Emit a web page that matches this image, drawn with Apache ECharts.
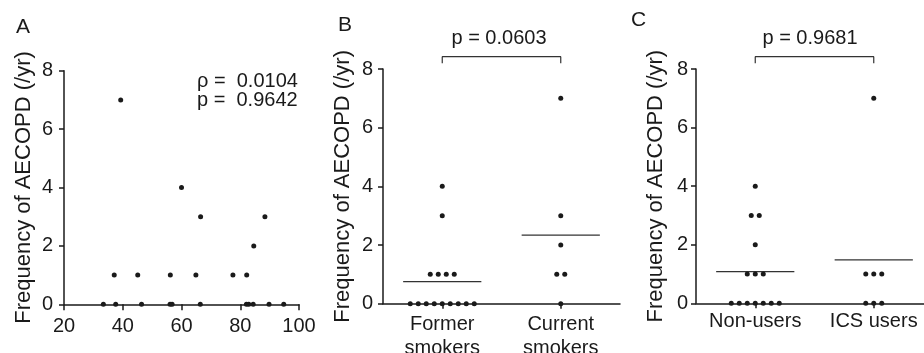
<!DOCTYPE html>
<html>
<head>
<meta charset="utf-8">
<script src="https://cdn.jsdelivr.net/npm/echarts@6/dist/echarts.min.js"></script>
<style>
html,body{margin:0;padding:0;background:#fff;}
#chart{width:924px;height:353px;}
</style>
</head>
<body>
<div id="chart"></div>
<script>
// ---- data ----
const yTitle = 'Frequency of AECOPD (/yr)';
const panelLetters = ['A', 'B', 'C'];
// Panel A: scatter
const xA = [39.3, 60.0, 66.5, 88.4, 84.6, 37.1, 45.1, 56.2, 64.9, 77.5, 82.2, 33.4, 37.6, 46.4, 56.1, 56.8, 66.4, 82.1, 82.9, 84.4, 89.8, 94.8];
const yA = [7, 4, 3, 3, 2, 1, 1, 1, 1, 1, 1, 0, 0, 0, 0, 0, 0, 0, 0, 0, 0, 0];
const statsA = ['ρ =  0.0104', 'p =  0.9642'];
const xTicksA = [20, 40, 60, 80, 100];
const yTicks = [0, 2, 4, 6, 8];
// Panel B
const catsB = ['Former\nsmokers', 'Current\nsmokers'];
const formerB = [4, 3, 1, 1, 1, 1, 0, 0, 0, 0, 0, 0, 0, 0, 0];
const currentB = [7, 3, 2, 1, 1, 0];
const meanB = [0.75, 2.34];
const pB = 'p = 0.0603';
// Panel C
const catsC = ['Non-users', 'ICS users'];
const nonUsersC = [4, 3, 3, 2, 1, 1, 1, 0, 0, 0, 0, 0, 0, 0];
const icsC = [7, 1, 1, 1, 0, 0, 0];
const meanC = [1.08, 1.48];
const pC = 'p = 0.9681';

// ---- build ----
const FONT = "'Liberation Sans', Arial, Helvetica, sans-serif";
const INK = '#1a1a1a';

function swarm(groups) {
  const out = [];
  groups.forEach((vals, gi) => {
    const counts = {};
    vals.forEach(v => counts[v] = (counts[v] || 0) + 1);
    const seen = {};
    vals.forEach(v => {
      const k = seen[v] || 0; seen[v] = k + 1;
      out.push([gi, v, k, counts[v]]);
    });
  });
  return out;
}

function dotSeries(idx, data) {
  return {
    type: 'custom', xAxisIndex: idx, yAxisIndex: idx, data: data,
    encode: { x: 0, y: 1 }, clip: false, z: 5,
    renderItem: function (params, api) {
      const c = api.coord([api.value(0), api.value(1)]);
      const off = (api.value(2) - (api.value(3) - 1) / 2) * 8;
      return { type: 'circle', shape: { cx: c[0] + off, cy: c[1], r: 2.5 }, style: { fill: INK } };
    }
  };
}
function meanSeries(idx, means) {
  return {
    type: 'custom', xAxisIndex: idx, yAxisIndex: idx,
    data: means.map((m, i) => [i, m]), encode: { x: 0, y: 1 }, clip: false, z: 4,
    renderItem: function (params, api) {
      const c = api.coord([api.value(0), api.value(1)]);
      const bw = api.size([1, 0])[0];
      return { type: 'line', shape: { x1: c[0] - 0.33 * bw, y1: c[1], x2: c[0] + 0.33 * bw, y2: c[1] },
        style: { stroke: '#333', lineWidth: 1.2 } };
    }
  };
}
function bracketSeries(idx) {
  return {
    type: 'line', xAxisIndex: idx, yAxisIndex: idx, clip: false, symbol: 'none', silent: true,
    data: [[0, 8.2], [0, 8.42], [1, 8.42], [1, 8.2]],
    lineStyle: { color: '#333', width: 1.2 }, z: 4
  };
}

const axisLine = { show: true, lineStyle: { color: INK, width: 1.5 } };
const axisTick = { show: true, length: 5, lineStyle: { color: INK, width: 1.5 } };

function yAxis(gi, margin) {
  return {
    type: 'value', gridIndex: gi, min: 0, max: 8, interval: 2,
    axisLine: axisLine, axisTick: axisTick, splitLine: { show: false },
    axisLabel: { fontSize: 20, color: INK, fontFamily: FONT, margin: margin,
      formatter: v => yTicks.includes(v) ? String(v) : '' },
    name: yTitle, nameLocation: 'middle', nameGap: 29,
    nameTextStyle: { fontSize: 22, color: INK, fontFamily: FONT }
  };
}

const txt = (t, fs) => ({ text: t, fontSize: fs, fill: INK, fontFamily: FONT });

const option = {
  animation: false,
  backgroundColor: '#fff',
  grid: [
    { left: 64, top: 70.7, width: 235, height: 233.6, outerBoundsMode: 'none', containLabel: false },
    { left: 383, top: 69, width: 237, height: 234.7, outerBoundsMode: 'none', containLabel: false },
    { left: 696, top: 69, width: 237, height: 234.3, outerBoundsMode: 'none', containLabel: false }
  ],
  xAxis: [
    { type: 'value', gridIndex: 0, min: 20, max: 100, interval: 20,
      axisLine: axisLine, axisTick: { show: true, length: 6, lineStyle: { color: INK, width: 1.5 } },
      splitLine: { show: false },
      axisLabel: { fontSize: 20, color: INK, fontFamily: FONT, margin: 12,
        formatter: v => xTicksA.includes(v) ? String(v) : '' } },
    { type: 'category', gridIndex: 1, data: catsB, boundaryGap: true,
      axisLine: axisLine, axisTick: Object.assign({ alignWithLabel: true, interval: 0 }, axisTick),
      axisLabel: { fontSize: 20, color: INK, fontFamily: FONT, margin: 9, lineHeight: 24, interval: 0 } },
    { type: 'category', gridIndex: 2, data: catsC, boundaryGap: true,
      axisLine: axisLine, axisTick: Object.assign({ alignWithLabel: true, interval: 0 }, axisTick),
      axisLabel: { fontSize: 20, color: INK, fontFamily: FONT, margin: 6, lineHeight: 24, interval: 0 } }
  ],
  yAxis: [yAxis(0, 11), yAxis(1, 10), yAxis(2, 8)],
  series: [
    { type: 'scatter', xAxisIndex: 0, yAxisIndex: 0, symbolSize: 5, clip: false,
      itemStyle: { color: INK, opacity: 1 }, data: xA.map((x, i) => [x, yA[i]]), z: 5 },
    dotSeries(1, swarm([formerB, currentB])),
    meanSeries(1, meanB),
    bracketSeries(1),
    dotSeries(2, swarm([nonUsersC, icsC])),
    meanSeries(2, meanC),
    bracketSeries(2)
  ],
  graphic: [
    { type: 'text', left: 16, top: 17, style: txt(panelLetters[0], 21) },
    { type: 'text', left: 338, top: 15, style: txt(panelLetters[1], 21) },
    { type: 'text', left: 631, top: 10, style: txt(panelLetters[2], 21) },
    { type: 'text', x: 197, y: 91, style: Object.assign(txt(statsA.join('\n'), 20), { lineHeight: 19, verticalAlign: 'middle' }) },
    { type: 'text', x: 499, y: 38, style: Object.assign(txt(pB, 20), { align: 'center', verticalAlign: 'middle' }) },
    { type: 'text', x: 810, y: 38, style: Object.assign(txt(pC, 20), { align: 'center', verticalAlign: 'middle' }) }
  ]
};

const chart = echarts.init(document.getElementById('chart'), null, { renderer: 'canvas' });
chart.setOption(option);
</script>
</body>
</html>
